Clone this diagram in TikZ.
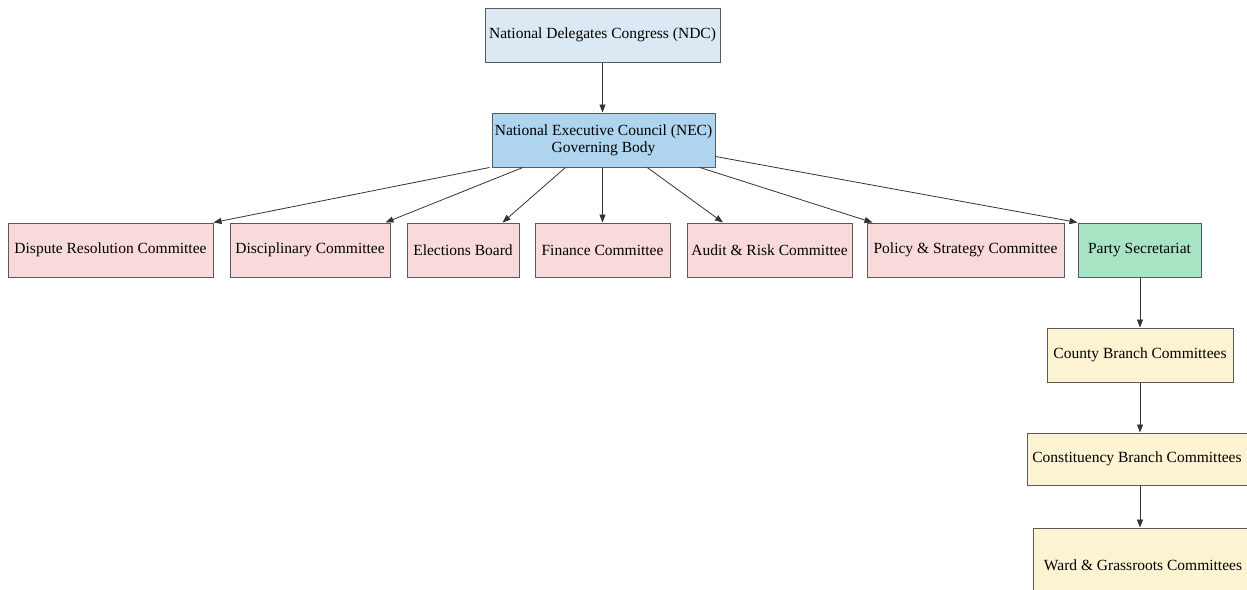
\documentclass[tikz,border=0pt]{standalone}
\usepackage{fontspec}
\setmainfont{Liberation Serif}
\usetikzlibrary{arrows.meta,calc}
\definecolor{ndcfill}{HTML}{DCE9F5}
\definecolor{necfill}{HTML}{AED4EF}
\definecolor{pinkfill}{HTML}{F9DADA}
\definecolor{greenfill}{HTML}{A8E4C4}
\definecolor{yellowfill}{HTML}{FCF3D2}
\definecolor{edgegray}{HTML}{5A5A5A}
\tikzset{
  box/.style={draw=edgegray, line width=1pt, minimum height=54pt, inner sep=0pt, align=center, font=\fontsize{15.5}{17}\selectfont},
  ndc/.style={box, fill=ndcfill},
  nec/.style={box, fill=necfill},
  comm/.style={box, fill=pinkfill},
  sec/.style={box, fill=greenfill},
  branch/.style={box, fill=yellowfill},
  arr/.style={draw=black!80, line width=0.8pt, -{Triangle[length=8pt,width=6pt]}}
}
\begin{document}
\begin{tikzpicture}[x=1pt,y=-1pt]
\useasboundingbox[fill=white] (0,0) rectangle (1247,589);
\node[ndc, minimum width=235pt] (ndc) at (602.5,35) {National Delegates Congress (NDC)};
\node[nec, minimum width=223pt] (nec) at (603.5,140) {National Executive Council (NEC)\\Governing Body};
\node[comm, minimum width=205pt] (disp) at (110.5,250) {Dispute Resolution Committee};
\node[comm, minimum width=160pt] (disc) at (310,250) {Disciplinary Committee};
\node[comm, minimum width=112pt] (elec) at (463,250) {Elections Board};
\node[comm, minimum width=135pt] (fin) at (602.5,250) {Finance Committee};
\node[comm, minimum width=165pt] (aud) at (769.5,250) {Audit \& Risk Committee};
\node[comm, minimum width=197pt] (pol) at (965.5,250) {Policy \& Strategy Committee};
\node[sec, minimum width=123pt] (sect) at (1139.5,250) {Party Secretariat};
\node[branch, minimum width=186pt] (county) at (1140,355) {County Branch Committees};
\node[branch, minimum width=220pt, minimum height=52pt] (const) at (1137,459) {Constituency Branch Committees};
\node[branch, minimum width=220pt, minimum height=74pt] (ward) at (1143,565) {Ward \& Grassroots Committees};

\draw[arr] (ndc.south) -- (ndc.south |- nec.north);
\draw[arr] ($(nec.south west)+(-2,0)$) -- (disp.north east);
\draw[arr] ($(nec.south west)!0.14!(nec.south east)$) -- ($(disc.north east)+(-5,0)$);
\draw[arr] ($(nec.south west)!0.33!(nec.south east)$) -- ($(elec.north west)!0.85!(elec.north east)$);
\draw[arr] (fin.north |- nec.south) -- (fin.north);
\draw[arr] ($(nec.south west)!0.695!(nec.south east)$) -- ($(aud.north west)!0.22!(aud.north east)$);
\draw[arr] ($(nec.south west)!0.93!(nec.south east)$) -- ($(pol.north west)+(6,0)$);
\draw[arr] ($(nec.south east)!0.2!(nec.north east)$) -- (sect.north west);
\draw[arr] (county.north |- sect.south) -- (county.north);
\draw[arr] (county.south) -- (const.north -| county.south);
\draw[arr] (const.south -| county.south) -- (ward.north -| county.south);
\end{tikzpicture}
\end{document}
